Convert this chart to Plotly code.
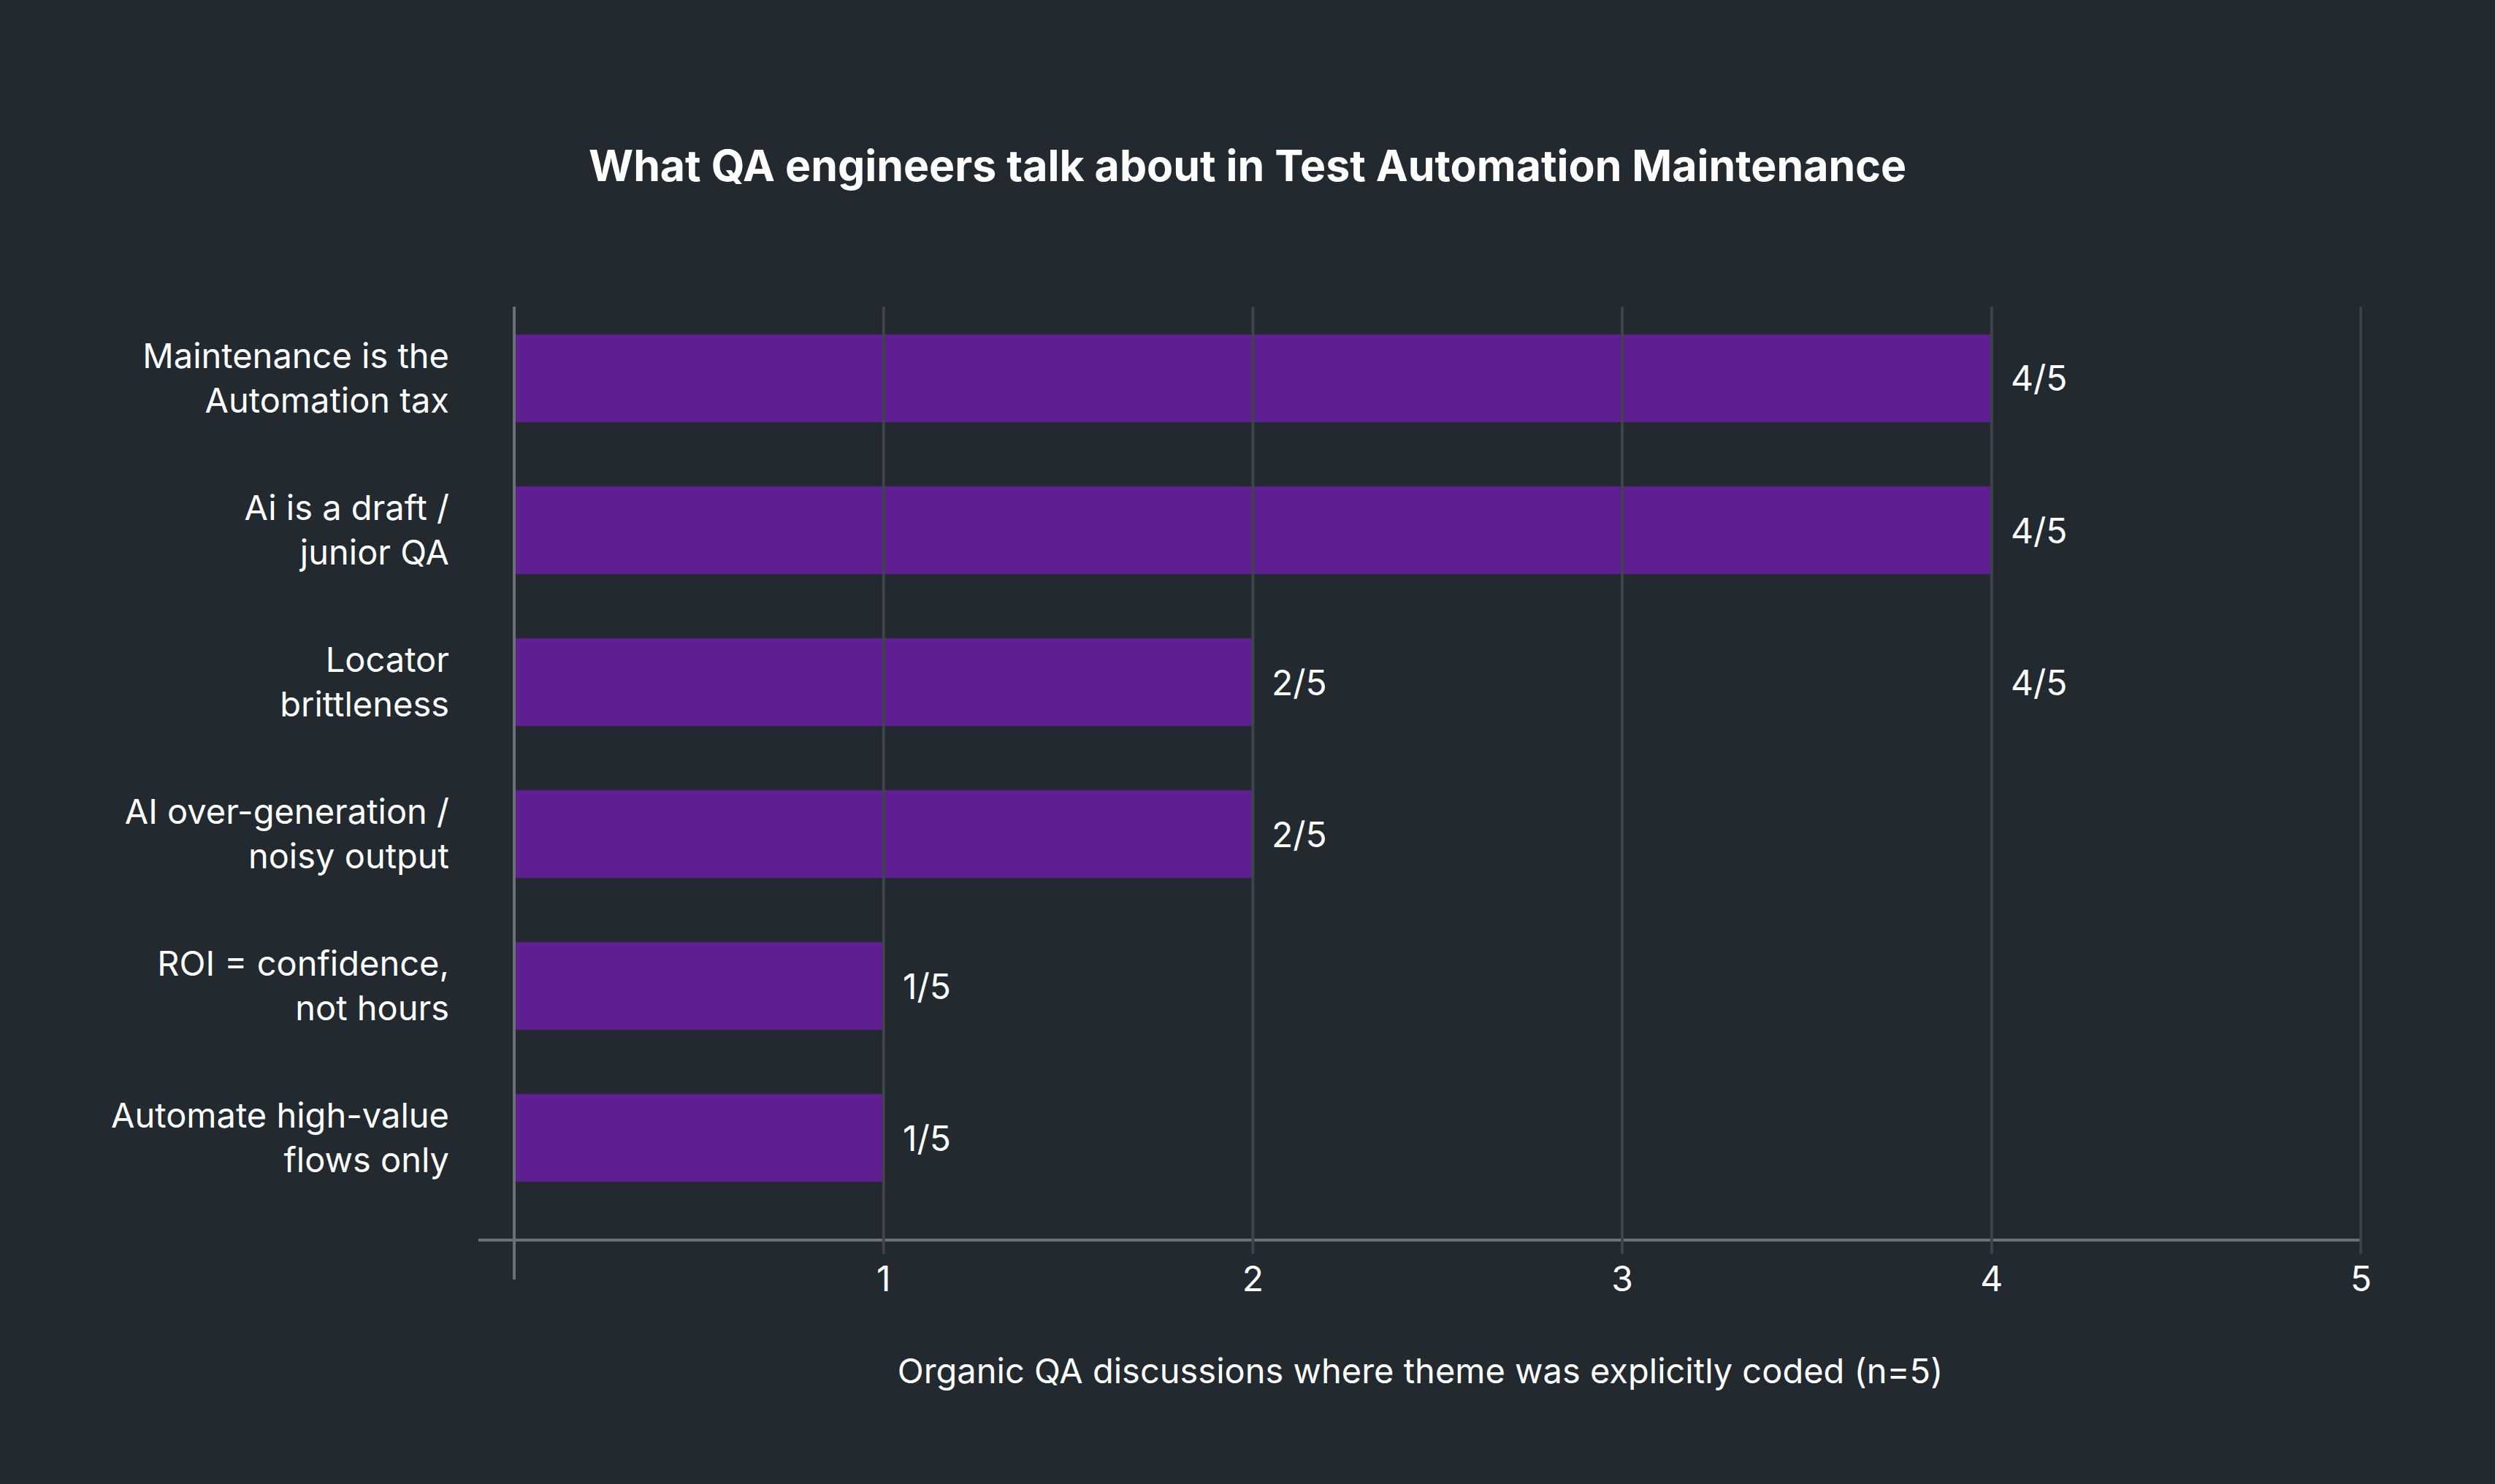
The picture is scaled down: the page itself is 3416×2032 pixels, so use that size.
import plotly.graph_objects as go

categories = [
    "Maintenance is the<br>Automation tax",
    "Ai is a draft /<br>junior QA",
    "Locator<br>brittleness",
    "AI over-generation /<br>noisy output",
    "ROI = confidence,<br>not hours",
    "Automate high-value<br>flows only",
]
counts = [4, 4, 2, 2, 1, 1]
value_labels = ["4/5", "4/5", "2/5", "2/5", "1/5", "1/5"]
# stray label present in the original chart
extra_label_x = [4]
extra_label_cat = ["Locator<br>brittleness"]
extra_label_text = ["4/5"]
x_ticks = [1, 2, 3, 4, 5]
x_tick_text = ["1", "2", "3", "4", "5"]

title_text = "What QA engineers talk about in Test Automation Maintenance"
x_title = "Organic QA discussions where theme was explicitly coded (n=5)"

BG = "#22292f"
BAR = "#5f1f93"
GRID = "#3d4548"
AXIS = "#6b7275"
FONT = "Inter"

fig = go.Figure()
fig.add_trace(go.Bar(
    x=counts, y=categories, orientation="h",
    marker=dict(color=BAR, line=dict(width=0)),
    width=0.577, hoverinfo="skip",
))

annotations = []
for v, c, t in list(zip(counts, categories, value_labels)) + list(zip(extra_label_x, extra_label_cat, extra_label_text)):
    annotations.append(dict(
        x=v, y=c, xref="x", yref="y", text=t, showarrow=False,
        xanchor="left", yanchor="middle", xshift=24,
        font=dict(family=FONT, size=48, color="#ffffff"),
    ))

shapes = []
for v in x_ticks:
    shapes.append(dict(type="line", xref="x", yref="paper", x0=v, x1=v, y0=-0.0165, y1=1,
                       line=dict(color=GRID, width=4), layer="above"))
shapes.append(dict(type="line", xref="x", yref="paper", x0=0, x1=0, y0=-0.0439, y1=1,
                   line=dict(color=AXIS, width=4), layer="above"))

fig.update_layout(
    width=3416, height=2032,
    paper_bgcolor=BG, plot_bgcolor=BG,
    margin=dict(l=655, r=182, t=420, b=336),
    showlegend=False,
    title=dict(text="<b>" + title_text + "</b>", x=0.5, xanchor="center", xref="container",
               y=1 - 227 / 2032, yref="container", yanchor="middle",
               font=dict(family=FONT, size=59, color="#ffffff")),
    annotations=annotations,
    shapes=shapes,
    font=dict(family=FONT, color="#ffffff"),
)
fig.update_xaxes(
    range=[-0.097, 5.003], tickvals=x_ticks, ticktext=x_tick_text,
    showgrid=False, zeroline=False,
    showline=True, linecolor=AXIS, linewidth=4,
    ticks="", ticklabelstandoff=10,
    tickfont=dict(family=FONT, size=48, color="#ffffff"),
    title=dict(text=x_title, standoff=84, font=dict(family=FONT, size=47, color="#ffffff")),
)
fig.update_yaxes(
    range=[5.663, -0.471], showgrid=False, zeroline=False, showline=False,
    ticks="", ticklabelstandoff=39,
    tickfont=dict(family=FONT, size=47, color="#ffffff"),
)

fig.write_html("out.html")
